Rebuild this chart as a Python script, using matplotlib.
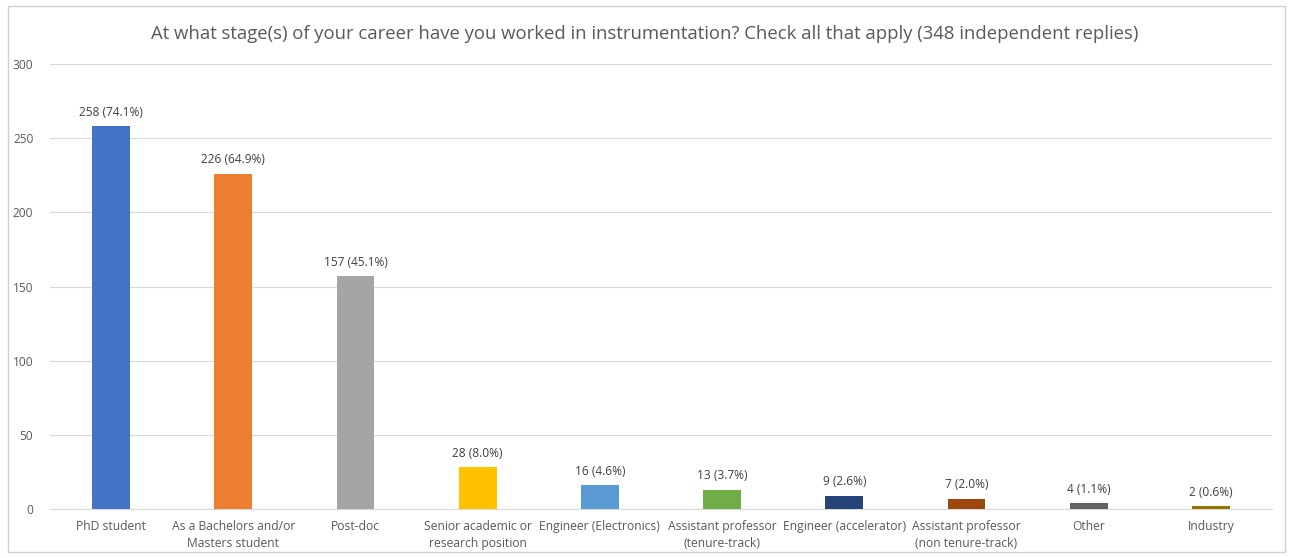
import matplotlib.pyplot as plt
from matplotlib.patches import Rectangle

categories = ['PhD student', 'As a Bachelors and/or\nMasters student', 'Post-doc',
              'Senior academic or\nresearch position', 'Engineer (Electronics)',
              'Assistant professor\n(tenure-track)', 'Engineer (accelerator)',
              'Assistant professor\n(non tenure-track)', 'Other', 'Industry']
counts = [258, 226, 157, 28, 16, 13, 9, 7, 4, 2]
percents = [74.1, 64.9, 45.1, 8.0, 4.6, 3.7, 2.6, 2.0, 1.1, 0.6]
colors = ['#4472C4', '#ED7D31', '#A5A5A5', '#FFC000', '#5B9BD5',
          '#70AD47', '#264478', '#9E480E', '#636363', '#997300']
yticks = [0, 50, 100, 150, 200, 250, 300]

plt.rcParams['font.family'] = ['Open Sans', 'DejaVu Sans']
txt = '#595959'

fig = plt.figure(figsize=(12.89, 5.58), dpi=100)
ax = fig.add_axes([50/1289, 1 - 509/558, 1222/1289, 445/558])

x = range(len(categories))
bars = ax.bar(x, counts, width=0.31, color=colors, zorder=3)
for b, c, p in zip(bars, counts, percents):
    ax.text(b.get_x() + b.get_width()/2, c + 5, '%d (%.1f%%)' % (c, p),
            ha='center', va='bottom', fontsize=8.6, color='#404040')

ax.set_xlim(-0.5, len(categories) - 0.5)
ax.set_ylim(0, 300)
ax.set_yticks(yticks)
ax.set_xticks(list(x))
ax.set_xticklabels(categories, fontsize=8.7, color=txt, linespacing=1.35)
ax.tick_params(axis='y', labelsize=8.6, labelcolor=txt, length=0, pad=12)
ax.tick_params(axis='x', length=0, pad=8)
ax.yaxis.grid(True, color='#D9D9D9', linewidth=0.8, zorder=0)
for s in ['top', 'right', 'left']:
    ax.spines[s].set_visible(False)
ax.spines['bottom'].set_color('#D9D9D9')

fig.text(0.5, 1 - 34/558, 'At what stage(s) of your career have you worked in instrumentation? Check all that apply (348 independent replies)',
         ha='center', va='center', fontsize=13.3, color=txt)

fig.patches.append(Rectangle((8/1289, 6/558), 1277/1289, 546/558, transform=fig.transFigure,
                             fill=False, edgecolor='#D0D0D0', linewidth=1))

fig.savefig('out.png', dpi=100)
